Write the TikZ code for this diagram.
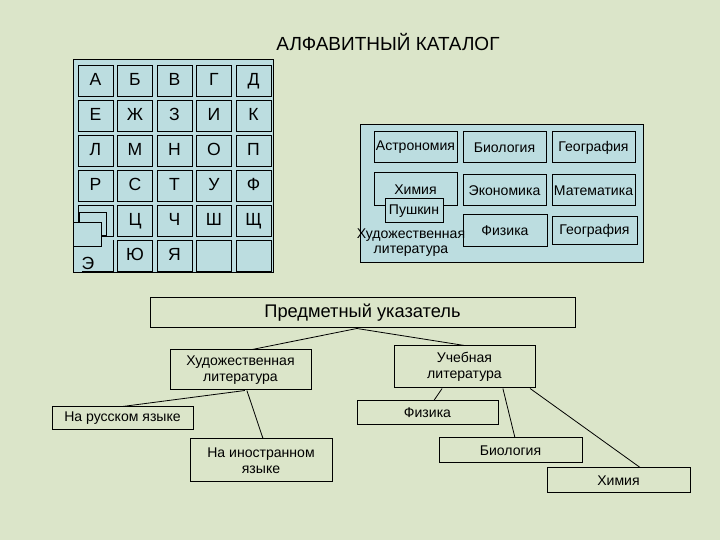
\documentclass[tikz,border=0pt]{standalone}
\usepackage{fontspec}
\setmainfont{Liberation Sans}
\definecolor{bggreen}{RGB}{219,229,201}
\definecolor{catblue}{RGB}{188,221,224}
\begin{document}
\begin{tikzpicture}[
  letter/.style={draw, line width=0.025cm, fill=catblue, minimum width=0.875cm, minimum height=0.775cm, inner sep=0pt, text height=0.72em, text depth=0.08em, font=\fontsize{12.5}{14}\selectfont},
  subject/.style={draw, line width=0.025cm, fill=catblue, minimum width=2.075cm, minimum height=0.775cm, inner sep=0pt, font=\fontsize{10}{12}\selectfont},
  entry/.style={draw, line width=0.025cm, minimum width=3.525cm, inner sep=0pt, align=center, font=\fontsize{10}{11.5}\selectfont},
  link/.style={line width=0.02cm}]
                    \useasboundingbox (0,0) rectangle (18,13.5);
                    \fill [bggreen] (0,0) rectangle (18,13.5);%

                    % Title
                    \node (title) at (9.70,12.45) {\fontsize{13.5}{15}\selectfont АЛФАВИТНЫЙ КАТАЛОГ};%

                    % Drawing alphabet panel
                    \draw [line width=0.025cm, fill=catblue] (1.825,12.000) rectangle (6.825,6.675);%

                    % Row A
                    \node [letter] (a1) at (2.3875,11.475) {А};%
                    \node [letter] (a2) at (3.3750,11.475) {Б};%
                    \node [letter] (a3) at (4.3625,11.475) {В};%
                    \node [letter] (a4) at (5.3500,11.475) {Г};%
                    \node [letter] (a5) at (6.3375,11.475) {Д};%

                    % Row E
                    \node [letter] (e1) at (2.3875,10.5975) {Е};%
                    \node [letter] (e2) at (3.3750,10.5975) {Ж};%
                    \node [letter] (e3) at (4.3625,10.5975) {З};%
                    \node [letter] (e4) at (5.3500,10.5975) {И};%
                    \node [letter] (e5) at (6.3375,10.5975) {К};%

                    % Row L
                    \node [letter] (l1) at (2.3875,9.720) {Л};%
                    \node [letter] (l2) at (3.3750,9.720) {М};%
                    \node [letter] (l3) at (4.3625,9.720) {Н};%
                    \node [letter] (l4) at (5.3500,9.720) {О};%
                    \node [letter] (l5) at (6.3375,9.720) {П};%

                    % Row R
                    \node [letter] (r1) at (2.3875,8.8425) {Р};%
                    \node [letter] (r2) at (3.3750,8.8425) {С};%
                    \node [letter] (r3) at (4.3625,8.8425) {Т};%
                    \node [letter] (r4) at (5.3500,8.8425) {У};%
                    \node [letter] (r5) at (6.3375,8.8425) {Ф};%

                    % Row C, first card pulled out
                    \node [letter] (c1) at (2.3875,7.965) {};%
                    \node [letter] (c2) at (3.3750,7.965) {Ц};%
                    \node [letter] (c3) at (4.3625,7.965) {Ч};%
                    \node [letter] (c4) at (5.3500,7.965) {Ш};%
                    \node [letter] (c5) at (6.3375,7.965) {Щ};%
                    \draw [line width=0.025cm, fill=catblue] (1.975,8.175) rectangle (2.650,7.600);%
                    \draw [line width=0.025cm, fill=catblue] (1.825,7.925) rectangle (2.525,7.325);%

                    % Row Yu, card E without its frame
                    \draw [line width=0.025cm] (2.825,7.500) -- (2.825,6.720) -- (2.050,6.720);%
                    \node [font=\fontsize{12.5}{14}\selectfont] (y1) at (2.200,6.925) {Э};%
                    \node [letter] (y2) at (3.3750,7.0875) {Ю};%
                    \node [letter] (y3) at (4.3625,7.0875) {Я};%
                    \node [letter] (y4) at (5.3500,7.0875) {};%
                    \node [letter] (y5) at (6.3375,7.0875) {};%

                    % Drawing subject panel
                    \draw [line width=0.025cm, fill=catblue] (9.000,10.375) rectangle (16.075,6.925);%
                    \node [subject] (astr) at (10.3875,9.8125) {Астрономия};%
                    \node [subject] (biol) at (12.6125,9.8125) {Биология};%
                    \node [subject] (geog) at (14.8375,9.8125) {География};%
                    \node [subject, minimum height=0.825cm] (chem) at (10.3875,8.7625) {Химия};%
                    \node [subject] (econ) at (12.6125,8.7375) {Экономика};%
                    \node [subject] (math) at (14.8375,8.7375) {Математика};%
                    \node [subject, minimum width=2.1cm, minimum height=0.8cm] (phys) at (12.625,7.725) {Физика};%
                    \node [subject, minimum width=2.125cm, minimum height=0.7cm] (geoh) at (14.8625,7.725) {География};%
                    \node [subject, minimum width=1.45cm, minimum height=0.6cm] (push) at (10.350,8.225) {Пушкин};%
                    \node [align=center, inner sep=0pt, font=\fontsize{10}{10.8}\selectfont] (artl) at (10.275,7.44) {Художественная\\литература};%

                    % Subject index
                    \node [entry, minimum width=10.625cm, minimum height=0.75cm, font=\fontsize{13}{15}\selectfont] (index) at (9.0625,5.675) {Предметный указатель};%
                    \node [entry, minimum height=1.0cm] (fict) at (6.0125,4.250) {Художественная\\литература};%
                    \node [entry, minimum height=1.05cm] (educ) at (11.6125,4.325) {Учебная\\литература};%
                    \node [entry, minimum height=0.575cm] (russ) at (3.0625,3.0375) {На русском языке};%
                    \node [entry, minimum width=3.55cm, minimum height=1.075cm] (forg) at (6.525,1.9875) {На иностранном\\языке};%
                    \node [entry, minimum height=0.6cm] (ephy) at (10.6875,3.175) {Физика};%
                    \node [entry, minimum width=3.575cm, minimum height=0.625cm] (ebio) at (12.7625,2.2375) {Биология};%
                    \node [entry, minimum width=3.575cm, minimum height=0.625cm] (eche) at (15.4625,1.4875) {Химия};%

                    % Drawing links of the index
                    \draw [link] ([xshift=-0.14cm]index.south) -- ([xshift=0.29cm]fict.north);%
                    \draw [link] ([xshift=-0.14cm]index.south) -- (educ.north);%
                    \draw [link] ([xshift=0.11cm]fict.south) -- (russ.north);%
                    \draw [link] ([xshift=0.16cm]fict.south) -- ([xshift=0.05cm]forg.north);%
                    \draw [link] ([xshift=-0.56cm]educ.south) -- ([xshift=0.16cm]ephy.north);%
                    \draw [link] ([xshift=0.96cm]educ.south) -- ([xshift=0.11cm]ebio.north);%
                    \draw [link] ([xshift=1.64cm]educ.south) -- ([xshift=0.54cm]eche.north);%
\end{tikzpicture}
\end{document}
